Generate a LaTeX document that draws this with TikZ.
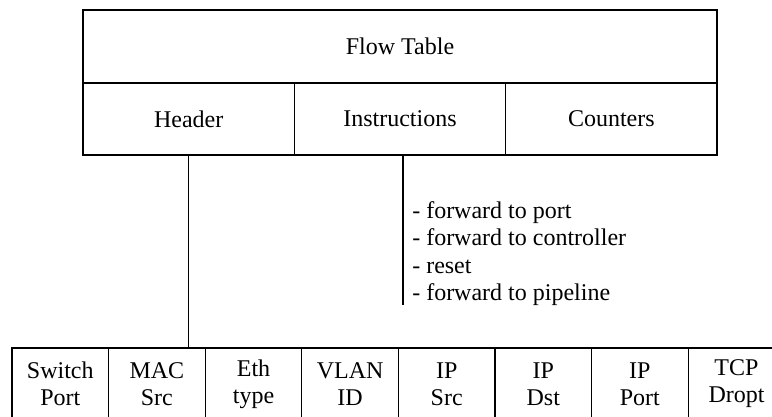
\documentclass[tikz,border=0pt]{standalone}
\usepackage{fontspec}
\setmainfont{Liberation Serif}
\usetikzlibrary{positioning}
\begin{document}
\begin{tikzpicture}[x=0.75pt, y=-0.75pt,
    cell/.style={draw, line width=0.8pt, outer sep=0pt, inner sep=0pt, minimum width=158.5pt, minimum height=54pt, font=\fontsize{18}{21}\selectfont},
    field/.style={draw, line width=0.8pt, outer sep=0pt, inner sep=0pt, minimum width=72.45pt, minimum height=54pt, align=center, font=\fontsize{18}{20.3}\selectfont},
    link/.style={line width=1pt},
]
\useasboundingbox (0,0) rectangle (772,417);
\clip (0,0) rectangle (772,417);

% Flow table (top)
\node[cell, minimum width=475.5pt, minimum height=54.75pt] (flow) at (400,46.5) {Flow Table};
\node[cell, anchor=north west] (header) at (flow.south west) {Header};
\node[cell, right=0pt of header] (instr) {Instructions};
\node[cell, right=0pt of instr] (counters) {Counters};

% Header fields (bottom)
\foreach \name/\txt [count=\i] in {swport/{Switch\\Port}, macsrc/{MAC\\Src}, ethtype/{Eth\\type}, vlanid/{VLAN\\ID},
    ipsrc/{IP\\Src}, ipdst/{IP\\Dst}, ipport/{IP\\Port}, tcpdrop/{TCP\\Dropt}} {
    \node[field] (\name) at ({12+96.6*(\i-0.5)}, 384) {\txt};
}

% Instructions list
\node[anchor=west, align=left, inner sep=0pt, font=\fontsize{18}{20.6}\selectfont] (actions) at (412,253.5)
    {- forward to port\\- forward to controller\\- reset\\- forward to pipeline};
\coordinate (instrend) at (403,305);

% Connectors
\draw[link] (header.south) -- (header.south |- macsrc.north);
\draw[link] (instr.south -| instrend) -- (instrend);

\end{tikzpicture}
\end{document}
